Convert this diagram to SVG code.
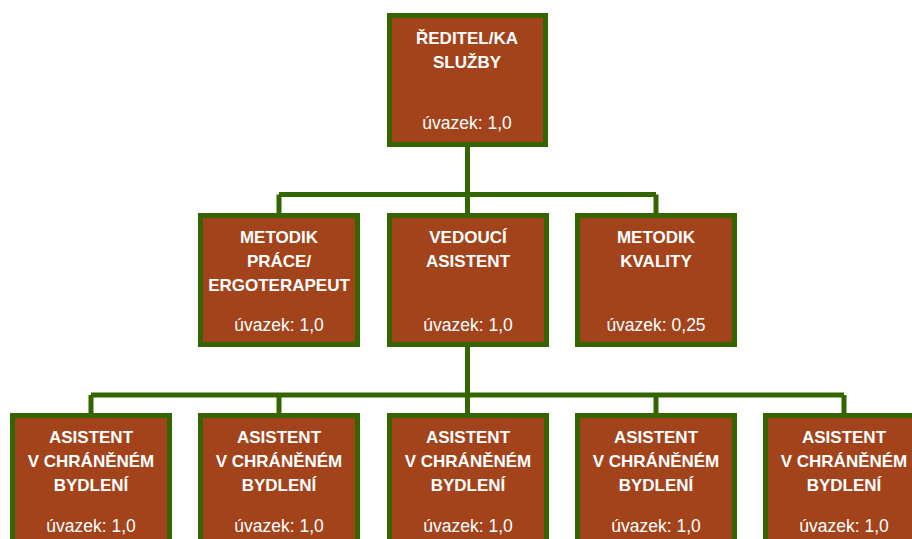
<svg xmlns="http://www.w3.org/2000/svg" width="912" height="539" viewBox="0 0 912 539">
<style>
.box{fill:#A3431B;stroke:#336600;stroke-width:5}
.t{font-family:"Liberation Sans",Arial,sans-serif;font-weight:bold;font-size:17px;fill:#FFFFFF;text-anchor:middle}
.u{font-family:"Liberation Sans",Arial,sans-serif;font-size:17.5px;fill:#FFFFFF;text-anchor:middle}
.c{fill:none;stroke:#336600;stroke-width:5}
</style>
<rect width="912" height="539" fill="#FFFFFF"/>
<g id="connectors">
<path class="c" d="M467.5,147 V194.5 M279,194.5 H656 M279,194.5 V213 M467.5,194.5 V213 M656,194.5 V213"/>
<path class="c" d="M467.5,347 V395 M91,395 H844 M91,395 V413 M279,395 V413 M467.5,395 V413 M656,395 V413 M844,395 V413"/>
</g>
<g id="reditel">
<rect class="box" x="389.5" y="15.5" width="156" height="129"/>
<text class="t" x="467" y="43.5">ŘEDITEL/KA</text>
<text class="t" x="467" y="68">SLUŽBY</text>
<text class="u" x="467" y="129">úvazek: 1,0</text>
</g>
<g id="metodik-prace">
<rect class="box" x="200.5" y="215.5" width="157" height="129"/>
<text class="t" x="279" y="242.5">METODIK</text>
<text class="t" x="279" y="267">PRÁCE/</text>
<text class="t" x="279" y="291">ERGOTERAPEUT</text>
<text class="u" x="279" y="330.5">úvazek: 1,0</text>
</g>
<g id="vedouci">
<rect class="box" x="389.5" y="215.5" width="157" height="129"/>
<text class="t" x="468" y="242.5">VEDOUCÍ</text>
<text class="t" x="468" y="267">ASISTENT</text>
<text class="u" x="468" y="330.5">úvazek: 1,0</text>
</g>
<g id="metodik-kvality">
<rect class="box" x="577.5" y="215.5" width="157" height="129"/>
<text class="t" x="656" y="242.5">METODIK</text>
<text class="t" x="656" y="267">KVALITY</text>
<text class="u" x="656" y="330.5">úvazek: 0,25</text>
</g>
<g id="asistent1">
<rect class="box" x="12.5" y="415.5" width="157" height="129"/>
<text class="t" x="91" y="443">ASISTENT</text>
<text class="t" x="91" y="467">V CHRÁNĚNÉM</text>
<text class="t" x="91" y="491">BYDLENÍ</text>
<text class="u" x="91" y="531.5">úvazek: 1,0</text>
</g>
<g id="asistent2">
<rect class="box" x="200.5" y="415.5" width="157" height="129"/>
<text class="t" x="279" y="443">ASISTENT</text>
<text class="t" x="279" y="467">V CHRÁNĚNÉM</text>
<text class="t" x="279" y="491">BYDLENÍ</text>
<text class="u" x="279" y="531.5">úvazek: 1,0</text>
</g>
<g id="asistent3">
<rect class="box" x="389.5" y="415.5" width="157" height="129"/>
<text class="t" x="468" y="443">ASISTENT</text>
<text class="t" x="468" y="467">V CHRÁNĚNÉM</text>
<text class="t" x="468" y="491">BYDLENÍ</text>
<text class="u" x="468" y="531.5">úvazek: 1,0</text>
</g>
<g id="asistent4">
<rect class="box" x="577.5" y="415.5" width="157" height="129"/>
<text class="t" x="656" y="443">ASISTENT</text>
<text class="t" x="656" y="467">V CHRÁNĚNÉM</text>
<text class="t" x="656" y="491">BYDLENÍ</text>
<text class="u" x="656" y="531.5">úvazek: 1,0</text>
</g>
<g id="asistent5">
<rect class="box" x="765.5" y="415.5" width="157" height="129"/>
<text class="t" x="844" y="443">ASISTENT</text>
<text class="t" x="844" y="467">V CHRÁNĚNÉM</text>
<text class="t" x="844" y="491">BYDLENÍ</text>
<text class="u" x="844" y="531.5">úvazek: 1,0</text>
</g>
</svg>
